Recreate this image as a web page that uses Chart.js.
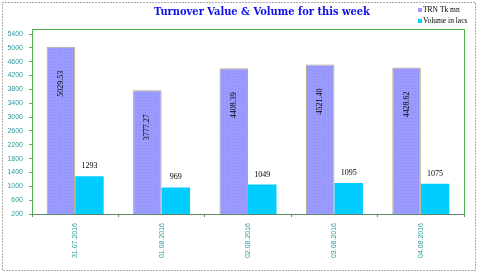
<!DOCTYPE html>
<html>
<head>
<meta charset="utf-8">
<script src="https://cdn.jsdelivr.net/npm/chart.js@4"></script>
<style>
  html, body { margin: 0; padding: 0; background: #fff; }
  #wrap { width: 479px; height: 277px; }
</style>
</head>
<body>
<div id="wrap"><canvas id="turnoverChart" width="479" height="277"></canvas></div>
<script>
// chart data
const dates = ['31.07.2016', '01.08.2016', '02.08.2016', '03.08.2016', '04.08.2016'];
const turnoverValues = [5029.53, 3777.27, 4408.39, 4521.40, 4428.62];
const volumeValues = [1293, 969, 1049, 1095, 1075];
const seriesNames = ['TRN Tk mn', 'Volume in lacs'];
const yMin = 200, yMax = 5400, yStep = 400;
const chartTitle = 'Turnover Value & Volume for this week';

const TEAL = '#2e9a9a';
const FRAME = '#4caf50';

// dotted purple fill like the excel pattern
function dotPattern() {
    const c = document.createElement('canvas');
    c.width = 3; c.height = 3;
    const g = c.getContext('2d');
    g.fillStyle = '#9b9bff';
    g.fillRect(0, 0, 3, 3);
    g.fillStyle = '#8c8cf2';
    g.fillRect(1, 1, 1, 1);
    return g.createPattern(c, 'repeat');
}

const ctx = document.getElementById('turnoverChart').getContext('2d');
const purpleFill = dotPattern();

// frame, title, legend and value labels
const decorPlugin = {
    id: 'decor',
    beforeDraw(chart) {
        const c = chart.ctx;
        c.save();
        c.fillStyle = '#fff';
        c.fillRect(0, 0, chart.width, chart.height);
        c.strokeStyle = '#555';
        c.lineWidth = 1;
        c.setLineDash([1, 2]);
        c.strokeRect(2.5, 2.5, 473, 268);
        c.restore();
    },
    afterDatasetsDraw(chart) {
        const c = chart.ctx;
        const a = chart.chartArea;
        c.save();
        // plot frame
        c.strokeStyle = FRAME;
        c.lineWidth = 1;
        c.beginPath();
        c.moveTo(a.left + 0.5, a.bottom);
        c.lineTo(a.left + 0.5, a.top - 5 + 0.5);
        c.lineTo(a.right + 0.5, a.top - 5 + 0.5);
        c.lineTo(a.right + 0.5, a.bottom);
        c.stroke();
        c.strokeStyle = '#5f8a6a';
        c.beginPath();
        c.moveTo(a.left, a.bottom + 0.5);
        c.lineTo(a.right + 1, a.bottom + 0.5);
        c.stroke();

        // value labels
        c.fillStyle = '#000';
        c.font = '8px "Liberation Serif"';
        c.textAlign = 'center';
        c.textBaseline = 'middle';
        chart.getDatasetMeta(0).data.forEach((bar, i) => {
            c.save();
            c.translate(bar.x, bar.y + 37);
            c.rotate(-Math.PI / 2);
            c.fillText(turnoverValues[i].toFixed(2), 0, 0);
            c.restore();
        });
        chart.getDatasetMeta(1).data.forEach((bar, i) => {
            c.fillText(String(volumeValues[i]), bar.x, bar.y - 10);
        });

        // title
        c.fillStyle = '#0f0fe8';
        c.font = 'bold 11px "DejaVu Serif Condensed", "DejaVu Serif"';
        c.fillText(chartTitle, 262, 12);

        // legend
        c.font = '7.5px "Liberation Serif"';
        c.textAlign = 'left';
        c.fillStyle = '#9999ff';
        c.fillRect(418, 8, 4, 4);
        c.fillStyle = '#00ccff';
        c.fillRect(418, 19, 4, 4);
        c.fillStyle = '#000';
        c.fillText(seriesNames[0], 423, 10.5);
        c.fillText(seriesNames[1], 423, 21.5);
        c.restore();
    }
};

new Chart(ctx, {
    type: 'bar',
    data: {
        labels: dates,
        datasets: [{
            label: seriesNames[0],
            data: turnoverValues,
            backgroundColor: purpleFill,
            borderColor: '#b3ab7c',
            borderWidth: { top: 1, left: 1, right: 1, bottom: 0 },
            borderSkipped: 'bottom',
            categoryPercentage: 0.66,
            barPercentage: 1
        }, {
            label: seriesNames[1],
            data: volumeValues,
            backgroundColor: '#00ccff',
            borderWidth: 0,
            categoryPercentage: 0.66,
            barPercentage: 1
        }]
    },
    options: {
        responsive: false,
        animation: false,
        layout: { padding: { left: 0, right: 15, top: 34, bottom: 0 } },
        plugins: {
            legend: { display: false },
            title: { display: false },
            tooltip: { enabled: false }
        },
        scales: {
            x: {
                afterFit: (s) => { s.height = 63; },
                grid: { display: true, drawOnChartArea: false, tickLength: 3, color: '#5f8a6a', offset: true },
                border: { display: false },
                ticks: {
                    color: TEAL,
                    font: { family: 'Liberation Sans', size: 7 },
                    minRotation: 90,
                    maxRotation: 90,
                    padding: 6
                }
            },
            y: {
                min: yMin,
                max: yMax,
                afterFit: (s) => { s.width = 32; },
                grid: { display: true, drawOnChartArea: false, tickLength: 3, color: '#7aa07a' },
                border: { display: false },
                ticks: {
                    stepSize: yStep,
                    color: TEAL,
                    font: { family: 'Liberation Sans', size: 7 },
                    padding: 6,
                    callback: (v) => String(v)
                }
            }
        }
    },
    plugins: [decorPlugin]
});
</script>
</body>
</html>
